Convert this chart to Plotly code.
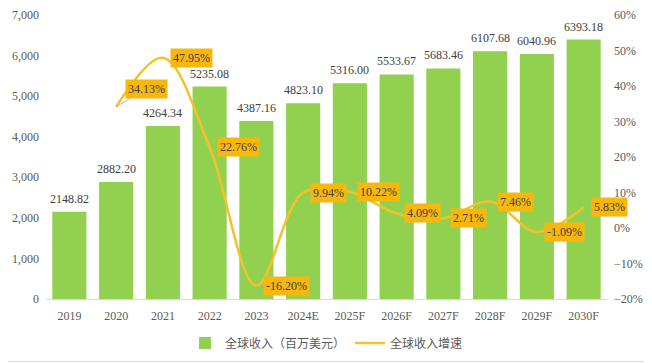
import plotly.graph_objects as go

years = ["2019", "2020", "2021", "2022", "2023", "2024E", "2025F", "2026F",
         "2027F", "2028F", "2029F", "2030F"]
revenue = [2148.82, 2882.20, 4264.34, 5235.08, 4387.16, 4823.10, 5316.00,
           5533.67, 5683.46, 6107.68, 6040.96, 6393.18]
growth_years = ["2020", "2021", "2022", "2023", "2024E", "2025F", "2026F",
                "2027F", "2028F", "2029F", "2030F"]
growth = [34.13, 47.95, 22.76, -16.20, 9.94, 10.22, 4.09, 2.71, 7.46, -1.09, 5.83]

bar_name = "全球收入（百万美元）"
line_name = "全球收入增速"

SERIF = "Liberation Serif, Times New Roman, serif"
CJK = "Noto Sans CJK SC, sans-serif"
BAR_COLOR = "#92D050"
LINE_COLOR = "#F3C22B"
BOX_COLOR = "#F7B70C"
TXT = "#404040"
TICK = "#595959"

fig = go.Figure()
fig.add_trace(go.Bar(
    x=years, y=revenue, name=bar_name, marker_color=BAR_COLOR,
    marker_line_width=0, yaxis="y",
))
fig.add_trace(go.Scatter(
    x=growth_years, y=growth, name=line_name, mode="lines",
    line=dict(color=LINE_COLOR, width=2.5, shape="spline", smoothing=1),
    yaxis="y2",
))

annotations = []
for x, v in zip(years, revenue):
    annotations.append(dict(
        x=years.index(x), y=v, xref="x", yref="y", text=f"{v:.2f}",
        showarrow=False, yanchor="bottom", yshift=4,
        font=dict(family=SERIF, size=12, color=TXT),
    ))
for i, (x, v) in enumerate(zip(growth_years, growth)):
    common = dict(
        x=years.index(x), y=v, xref="x", yref="y2", text=f"{v:.2f}%",
        bgcolor=BOX_COLOR, borderpad=2,
        font=dict(family=SERIF, size=12, color=TXT),
    )
    if i == 0:
        annotations.append(dict(
            **common, showarrow=True, ax=30, ay=-18, arrowhead=0,
            arrowwidth=0.8, arrowcolor="#A6A6A6", standoff=0,
        ))
    else:
        annotations.append(dict(
            **common, showarrow=False, xanchor="left", yanchor="middle",
            xshift=7,
        ))

# page has an 8px body margin; size the figure so the plot lands where the reference's does
W, H = 644, 355
L, T = 38, 7
pw, ph = 561, 284
R, B = W - L - pw, H - T - ph

fig.update_layout(
    width=W, height=H,
    margin=dict(l=L, r=R, t=T, b=B, autoexpand=False),
    paper_bgcolor="white", plot_bgcolor="white",
    bargap=0.27,
    showlegend=True,
    legend=dict(
        orientation="h", x=0.5, xanchor="center", y=-44 / ph,
        yanchor="middle", font=dict(family=CJK, size=12, color=TICK),
        itemwidth=30, tracegroupgap=0,
    ),
    xaxis=dict(
        type="category", range=[-0.5, len(years) - 0.5], showgrid=False,
        showline=True, linecolor="#D9D9D9", linewidth=1, ticks="",
        tickfont=dict(family=SERIF, size=12, color=TICK),
        ticklabelstandoff=6, automargin=False,
    ),
    yaxis=dict(
        range=[0, 7000], dtick=1000, tickformat=",", showgrid=False,
        zeroline=False, showline=False, ticks="",
        tickfont=dict(family=SERIF, size=12, color=TICK),
        ticklabelstandoff=6, automargin=False,
    ),
    yaxis2=dict(
        range=[-20, 60], dtick=10, ticksuffix="%", overlaying="y", side="right",
        showgrid=False, zeroline=False, showline=False, ticks="",
        tickfont=dict(family=SERIF, size=12, color=TICK),
        ticklabelstandoff=6, automargin=False,
    ),
    annotations=annotations,
    shapes=[dict(
        type="line", xref="paper", yref="paper",
        x0=-L / pw, x1=1 + R / pw,
        y0=-(B - 1.5) / ph, y1=-(B - 1.5) / ph,
        line=dict(color="#D9D9D9", width=1), layer="below",
    )],
)

fig.write_html("out.html")
